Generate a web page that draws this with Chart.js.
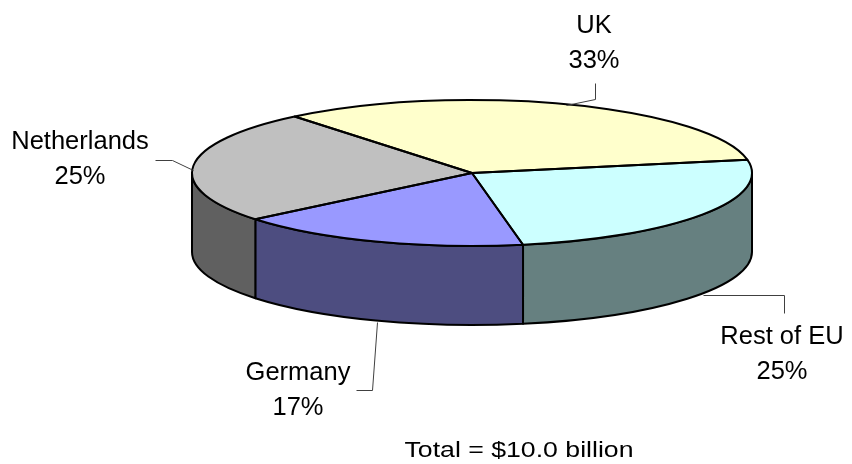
<!DOCTYPE html>
<html>
<head>
<meta charset="utf-8">
<script src="https://cdn.jsdelivr.net/npm/chart.js"></script>
<style>
  body { margin: 0; background: #fff; }
</style>
</head>
<body>
<canvas id="myPieChart" width="852" height="464"></canvas>
<script>
// data, $ billions
const regions = ['Rest of EU', 'Germany', 'Netherlands', 'UK'];
const revenue = [2.5, 1.7, 2.5, 3.3];
const totalLabel = 'Total = $10.0 billion';

// look
const topColors = ['#CCFFFF', '#9999FF', '#C0C0C0', '#FFFFCC'];
const sideColors = ['#668080', '#4D4D80', '#606060', '#808066'];

// 3d ellipse placement on the page
const CX = 472, CY = 173, RX = 280, RY = 73, DEPTH = 79;

// label anchors (center x, first baseline) and leader lines
const labelPos = [[782, 344], [298, 380], [80, 149], [594, 33]];
const leaders = [
  [[703, 295], [784, 295], [784, 313]],
  [[377, 322], [372, 390], [356, 390]],
  [[155, 160], [172, 160], [193, 170]],
  [[595, 83], [595, 99], [566, 105]]
];

const pie3d = {
  id: 'pie3d',
  beforeDatasetsDraw(chart) {
    const ctx = chart.ctx;
    const arcs = chart.getDatasetMeta(0).data;
    ctx.lineWidth = 2;
    ctx.strokeStyle = '#000';
    ctx.lineJoin = 'round';
    // side walls, only the front half is seen
    arcs.forEach((arc, i) => {
      [-2 * Math.PI, 0, 2 * Math.PI].forEach(shift => {
        const a = Math.max(arc.startAngle + shift, 0);
        const b = Math.min(arc.endAngle + shift, Math.PI);
        if (b <= a) return;
        ctx.beginPath();
        ctx.ellipse(CX, CY, RX, RY, 0, a, b);
        ctx.ellipse(CX, CY + DEPTH, RX, RY, 0, b, a, true);
        ctx.closePath();
        ctx.fillStyle = sideColors[i];
        ctx.fill();
        ctx.stroke();
      });
    });
    // squash the circle chart.js draws into the top ellipse
    const {x, y, outerRadius} = arcs[0];
    ctx.save();
    ctx.translate(CX, CY);
    ctx.scale(RX / outerRadius, RY / outerRadius);
    ctx.translate(-x, -y);
  },
  afterDatasetsDraw(chart) {
    const ctx = chart.ctx;
    ctx.restore();
    const arcs = chart.getDatasetMeta(0).data;
    ctx.save();
    ctx.lineWidth = 2;
    ctx.strokeStyle = '#000';
    ctx.lineJoin = 'round';
    arcs.forEach(arc => {
      ctx.beginPath();
      ctx.moveTo(CX, CY);
      ctx.ellipse(CX, CY, RX, RY, 0, arc.startAngle, arc.endAngle);
      ctx.closePath();
      ctx.stroke();
    });
    ctx.restore();
  },
  afterDraw(chart) {
    const ctx = chart.ctx;
    const total = revenue.reduce((s, v) => s + v, 0);
    ctx.save();
    ctx.strokeStyle = '#404040';
    ctx.lineWidth = 1;
    leaders.forEach(pts => {
      ctx.beginPath();
      pts.forEach((p, k) => k ? ctx.lineTo(p[0] + 0.5, p[1] + 0.5) : ctx.moveTo(p[0] + 0.5, p[1] + 0.5));
      ctx.stroke();
    });
    ctx.fillStyle = '#000';
    ctx.textAlign = 'center';
    ctx.textBaseline = 'alphabetic';
    ctx.font = '25.5px "Liberation Sans", Arial, sans-serif';
    regions.forEach((name, i) => {
      const [lx, ly] = labelPos[i];
      const pct = Math.round(revenue[i] / total * 100) + '%';
      ctx.fillText(name, lx, ly);
      ctx.fillText(pct, lx, ly + 35);
    });
    // total line is drawn a bit wide, like the original
    ctx.font = '21.5px "Liberation Sans", Arial, sans-serif';
    ctx.translate(519, 457);
    ctx.scale(1.24, 1);
    ctx.fillText(totalLabel, 0, 0);
    ctx.restore();
  }
};

document.addEventListener('DOMContentLoaded', function() {
  const ctx = document.getElementById('myPieChart').getContext('2d');
  new Chart(ctx, {
    type: 'pie',
    data: {
      labels: regions,
      datasets: [{
        data: revenue,
        backgroundColor: topColors,
        borderWidth: 0,
        clip: false
      }]
    },
    options: {
      responsive: false,
      animation: false,
      rotation: 79.5,
      events: [],
      plugins: {
        legend: { display: false },
        tooltip: { enabled: false },
        title: { display: false }
      }
    },
    plugins: [pie3d]
  });
});
</script>
</body>
</html>
